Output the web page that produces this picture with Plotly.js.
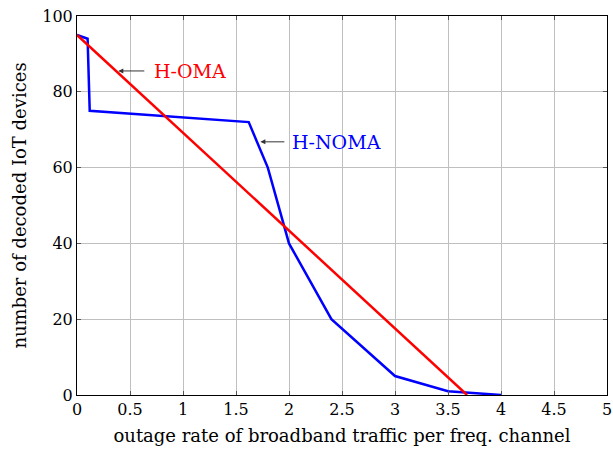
<!DOCTYPE html>
<html><head><meta charset="utf-8">
<script src="https://cdn.plot.ly/plotly-3.0.1.min.js"></script>
<style>body{margin:0;padding:0;background:#fff}</style>
</head><body>
<div id="chart" style="width:613px;height:449px"></div>
<script>
const nomaX = [0, 0.1, 0.12, 1.62, 1.8, 2.0, 2.4, 3.0, 3.5, 4.0];
const nomaY = [95, 94, 75, 72, 60, 40, 20, 5, 1, 0];
const omaX = [0, 3.68];
const omaY = [95, 0];
const xTicks = [0, 0.5, 1, 1.5, 2, 2.5, 3, 3.5, 4, 4.5, 5];
const yTicks = [0, 20, 40, 60, 80, 100];
const labels = ['H-NOMA', 'H-OMA'];

const fam = 'DejaVu Serif, serif';
const font = {family: fam, size: 16, color: '#000'};
const tfont = {family: fam, size: 18, color: '#000'};
const traces = [
  {x: nomaX, y: nomaY, mode: 'lines', name: labels[0], line: {color: '#0000ff', width: 2.5}},
  {x: omaX, y: omaY, mode: 'lines', name: labels[1], line: {color: '#ff0000', width: 2.5}}
];
const axisCommon = {
  showgrid: true, gridcolor: '#bfbfbf', gridwidth: 1,
  showline: true, linecolor: '#000', linewidth: 1, mirror: 'ticks',
  ticks: 'inside', ticklen: 4, tickcolor: '#555', zeroline: false,
  tickfont: font
};
const layout = {
  width: 613, height: 449,
  margin: {l: 77, r: 6, t: 16, b: 54},
  paper_bgcolor: '#fff', plot_bgcolor: '#fff',
  showlegend: false,
  font: font,
  xaxis: Object.assign({}, axisCommon, {range: [0, 5], tickvals: xTicks, ticktext: xTicks.map(String),
    title: {text: 'outage rate of broadband traffic per freq. channel', font: tfont, standoff: 11}}),
  yaxis: Object.assign({}, axisCommon, {range: [0, 100], tickvals: yTicks, ticktext: yTicks.map(String),
    title: {text: 'number of decoded IoT devices', font: tfont, standoff: 10}}),
  annotations: [
    {x: 0.39, y: 85.5, xref: 'x', yref: 'y', text: ' ', showarrow: true, ax: 30, ay: 0,
     arrowhead: 2, arrowsize: 1, arrowwidth: 1, arrowcolor: '#333'},
    {x: 0.71, y: 85.5, xref: 'x', yref: 'y', text: labels[1], showarrow: false, xanchor: 'left',
     font: {family: fam, size: 19, color: '#ff0000'}},
    {x: 1.73, y: 66.8, xref: 'x', yref: 'y', text: ' ', showarrow: true, ax: 28, ay: 0,
     arrowhead: 2, arrowsize: 1, arrowwidth: 1, arrowcolor: '#333'},
    {x: 2.01, y: 66.8, xref: 'x', yref: 'y', text: labels[0], showarrow: false, xanchor: 'left',
     font: {family: fam, size: 19, color: '#0000ff'}}
  ]
};
Plotly.newPlot('chart', traces, layout, {displayModeBar: false, staticPlot: true});
</script>
</body></html>
